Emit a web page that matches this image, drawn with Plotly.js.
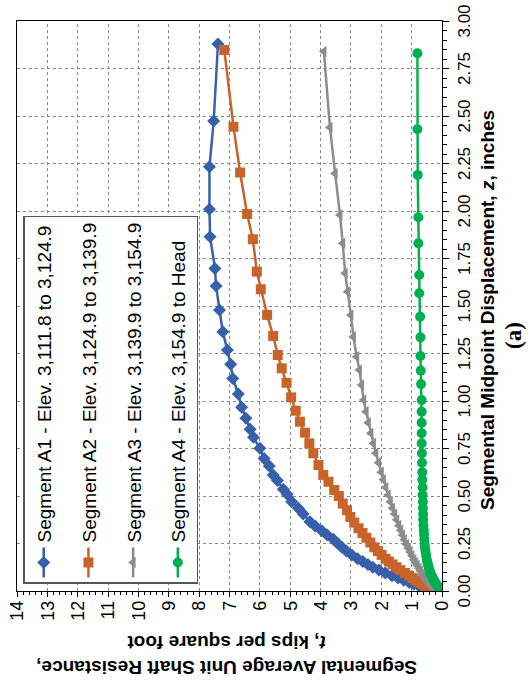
<!DOCTYPE html>
<html><head><meta charset="utf-8">
<script src="https://cdn.plot.ly/plotly-3.0.1.min.js"></script>
<style>
html,body{margin:0;padding:0;width:530px;height:685px;overflow:hidden;background:#fff}
#wrap{position:absolute;left:0;top:0;width:685px;height:530px;transform-origin:0 0;transform:translate(0px,685px) rotate(-90deg);}
#chart{width:685px;height:530px}
</style></head><body><div id="wrap"><div id="chart"></div></div>
<script>
const seriesNames = [
  "Segment A1 - Elev. 3,111.8 to 3,124.9",
  "Segment A2 - Elev. 3,124.9 to 3,139.9",
  "Segment A3 - Elev. 3,139.9 to 3,154.9",
  "Segment A4 - Elev. 3,154.9 to Head"
];
const zA1 = [0, 0.002, 0.006, 0.011, 0.018, 0.026, 0.035, 0.045, 0.056, 0.068, 0.080, 0.095, 0.110, 0.125, 0.140, 0.155, 0.170, 0.190, 0.210, 0.230, 0.251, 0.272, 0.295, 0.317, 0.342, 0.365, 0.405, 0.435, 0.470, 0.509, 0.535, 0.581, 0.611, 0.658, 0.698, 0.751, 0.809, 0.851, 0.909, 0.967, 1.037, 1.119, 1.193, 1.268, 1.365, 1.479, 1.605, 1.698, 1.865, 2.009, 2.233, 2.474, 2.879];
const tA1 = [0, 0.09, 0.24, 0.40, 0.58, 0.76, 0.93, 1.08, 1.26, 1.45, 1.65, 1.87, 2.08, 2.28, 2.44, 2.61, 2.78, 2.97, 3.15, 3.30, 3.44, 3.58, 3.78, 3.96, 4.18, 4.35, 4.57, 4.73, 4.95, 5.10, 5.23, 5.42, 5.56, 5.69, 5.86, 6.00, 6.21, 6.32, 6.46, 6.60, 6.71, 6.89, 6.96, 7.07, 7.22, 7.33, 7.44, 7.48, 7.64, 7.66, 7.66, 7.52, 7.38];
const zA2 = [0, 0.002, 0.006, 0.011, 0.018, 0.026, 0.035, 0.045, 0.056, 0.068, 0.080, 0.095, 0.110, 0.125, 0.140, 0.155, 0.170, 0.190, 0.210, 0.230, 0.255, 0.280, 0.305, 0.330, 0.360, 0.390, 0.425, 0.460, 0.500, 0.532, 0.575, 0.611, 0.663, 0.725, 0.777, 0.833, 0.891, 0.949, 1.019, 1.096, 1.172, 1.242, 1.342, 1.453, 1.588, 1.681, 1.851, 1.984, 2.203, 2.444, 2.847];
const tA2 = [0, 0.07, 0.18, 0.30, 0.42, 0.52, 0.63, 0.75, 0.86, 0.97, 1.08, 1.22, 1.37, 1.50, 1.63, 1.75, 1.86, 1.99, 2.11, 2.23, 2.36, 2.49, 2.62, 2.75, 2.89, 3.02, 3.13, 3.27, 3.40, 3.55, 3.74, 3.91, 4.07, 4.24, 4.37, 4.51, 4.68, 4.82, 4.97, 5.12, 5.28, 5.41, 5.56, 5.76, 5.97, 6.10, 6.23, 6.42, 6.65, 6.87, 7.17];
const zA3 = [0, 0.002, 0.005, 0.010, 0.016, 0.024, 0.032, 0.042, 0.053, 0.065, 0.077, 0.090, 0.105, 0.120, 0.135, 0.150, 0.165, 0.185, 0.205, 0.225, 0.245, 0.270, 0.295, 0.320, 0.345, 0.375, 0.405, 0.435, 0.470, 0.505, 0.545, 0.585, 0.625, 0.675, 0.725, 0.777, 0.830, 0.886, 0.944, 1.005, 1.084, 1.163, 1.233, 1.338, 1.453, 1.575, 1.672, 1.830, 1.979, 2.198, 2.439, 2.839];
const tA3 = [0, 0.05, 0.11, 0.19, 0.27, 0.34, 0.40, 0.46, 0.51, 0.56, 0.60, 0.65, 0.71, 0.76, 0.82, 0.88, 0.93, 0.99, 1.05, 1.11, 1.17, 1.24, 1.30, 1.36, 1.42, 1.49, 1.56, 1.63, 1.70, 1.77, 1.85, 1.93, 2.00, 2.09, 2.18, 2.26, 2.34, 2.43, 2.50, 2.58, 2.65, 2.72, 2.81, 2.92, 3.00, 3.11, 3.19, 3.27, 3.36, 3.52, 3.69, 3.89];
const zA4 = [0, 0.002, 0.005, 0.010, 0.016, 0.024, 0.032, 0.042, 0.053, 0.065, 0.077, 0.090, 0.105, 0.120, 0.135, 0.150, 0.165, 0.185, 0.205, 0.225, 0.245, 0.270, 0.295, 0.320, 0.345, 0.375, 0.405, 0.435, 0.470, 0.505, 0.545, 0.585, 0.625, 0.675, 0.725, 0.777, 0.830, 0.886, 0.944, 1.005, 1.089, 1.160, 1.237, 1.335, 1.444, 1.567, 1.663, 1.830, 1.967, 2.190, 2.430, 2.830];
const tA4 = [0, 0.01, 0.03, 0.06, 0.09, 0.13, 0.17, 0.21, 0.25, 0.29, 0.33, 0.37, 0.40, 0.43, 0.46, 0.48, 0.50, 0.52, 0.54, 0.56, 0.57, 0.58, 0.59, 0.60, 0.61, 0.62, 0.62, 0.63, 0.63, 0.64, 0.64, 0.65, 0.65, 0.66, 0.66, 0.67, 0.67, 0.67, 0.67, 0.67, 0.69, 0.70, 0.71, 0.71, 0.72, 0.75, 0.75, 0.78, 0.78, 0.80, 0.81, 0.81];

const colors = ["#3760AA", "#C8642A", "#8C8C8C", "#00B050"];
const symbols = ["diamond", "square", "triangle-up", "circle"];
const sizes = [10, 10, 10, 10];
const zs = [zA1, zA2, zA3, zA4];
const ts = [tA1, tA2, tA3, tA4];

const FONT = "Liberation Sans, Arial, sans-serif";
const traces = zs.map((z, i) => ({
  type: "scatter", mode: "lines+markers", x: z, y: ts[i], name: seriesNames[i],
  legendgroup: "g" + i,
  line: {color: colors[i], width: 2.5},
  marker: {color: colors[i], symbol: symbols[i], size: sizes[i]}
}));

const layout = {
  width: 685, height: 530,
  margin: {l: 94, r: 21, t: 17, b: 88},
  paper_bgcolor: "#fff", plot_bgcolor: "#fff",
  font: {family: FONT, size: 17, color: "#000"},
  showlegend: true,
  legend: {x: 0.0123, y: 0.985, xanchor: "left", yanchor: "top", bgcolor: "#fff",
    bordercolor: "#555", borderwidth: 1.5, font: {family: FONT, size: 19, color: "#000"},
    traceorder: "grouped", tracegroupgap: 17},
  xaxis: {range: [0, 3], dtick: 0.25, tick0: 0, tickformat: ".2f",
    showgrid: true, gridcolor: "#888", griddash: "dot", gridwidth: 1,
    showline: true, linecolor: "#000", linewidth: 1.2, mirror: true,
    ticks: "outside", ticklen: 6, tickcolor: "#000", tickwidth: 1,
    minor: {dtick: 0.05, ticks: "outside", ticklen: 4, tickcolor: "#000", showgrid: false},
    zeroline: false, tickfont: {size: 17}},
  yaxis: {range: [0, 14], dtick: 1, tick0: 0,
    showgrid: true, gridcolor: "#888", griddash: "dot", gridwidth: 1,
    showline: true, linecolor: "#000", linewidth: 1.2, mirror: true,
    ticks: "outside", ticklen: 5, tickcolor: "#000", tickwidth: 1,
    minor: {dtick: 0.2, ticks: "outside", ticklen: 3, tickcolor: "#000", showgrid: false},
    zeroline: false, tickfont: {size: 18}},
  annotations: [
    {xref: "paper", yref: "paper", x: 0.493, y: -0.107, xanchor: "center", yanchor: "middle",
     showarrow: false, text: "<b>Segmental Midpoint Displacement, <i>z</i>, inches</b>",
     font: {family: FONT, size: 19, color: "#000"}},
    {xref: "paper", yref: "paper", x: -0.1123, y: 0.508, xanchor: "center", yanchor: "middle",
     showarrow: false, textangle: -90,
     text: "<b>Segmental Average Unit Shaft Resistance,<br><i>t</i>, kips per square foot</b>",
     font: {family: FONT, size: 19, color: "#000"}},
    {xref: "paper", yref: "paper", x: 0.449, y: -0.168, xanchor: "center", yanchor: "middle",
     showarrow: false, text: "<b>(a)</b>", borderpad: 0,
     font: {family: "Liberation Serif, Times New Roman, serif", size: 23, color: "#000"}}
  ]
};

Plotly.newPlot("chart", traces, layout, {staticPlot: true, displayModeBar: false});
</script>
</body></html>
